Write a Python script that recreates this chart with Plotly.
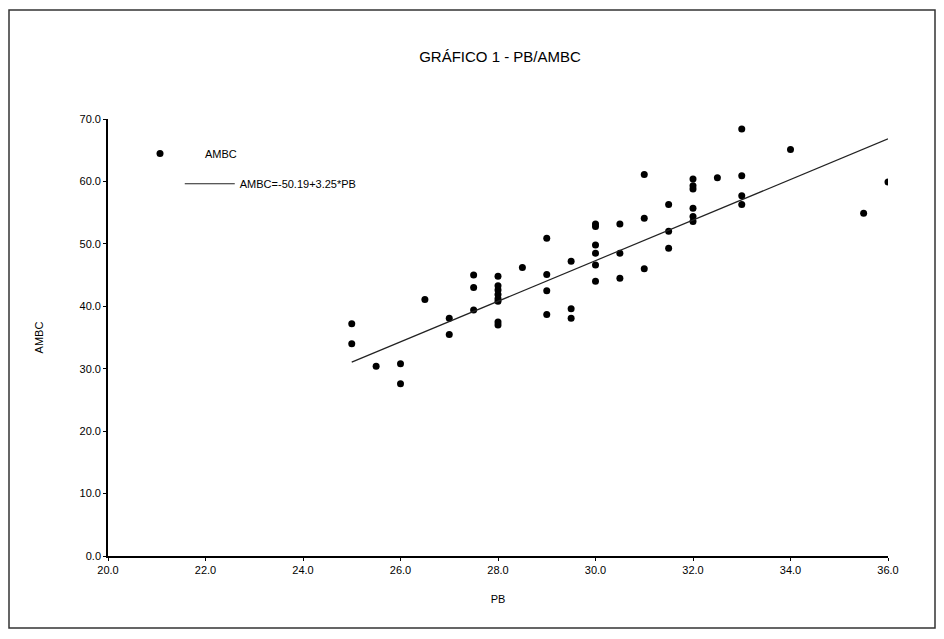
import plotly.graph_objects as go

# Data
pb = [25, 25, 25.5, 26, 26, 26.5, 27, 27,
      27.5, 27.5, 27.5,
      28, 28, 28, 28, 28, 28, 28, 28,
      28.5,
      29, 29, 29, 29,
      29.5, 29.5, 29.5,
      30, 30, 30, 30, 30, 30,
      30.5, 30.5, 30.5,
      31, 31, 31,
      31.5, 31.5, 31.5,
      32, 32, 32, 32, 32, 32,
      32.5,
      33, 33, 33, 33,
      34, 35.5, 36]
ambc = [37.2, 34.0, 30.4, 30.8, 27.6, 41.1, 38.1, 35.5,
        45.0, 43.0, 39.4,
        44.8, 43.3, 42.6, 41.9, 41.2, 40.8, 37.5, 37.0,
        46.2,
        50.9, 45.1, 42.5, 38.7,
        47.2, 39.6, 38.1,
        53.2, 52.8, 49.8, 48.5, 46.6, 44.0,
        53.2, 48.5, 44.5,
        61.1, 54.1, 46.0,
        56.3, 52.0, 49.3,
        60.4, 59.3, 58.8, 55.7, 54.4, 53.6,
        60.6,
        68.4, 60.9, 57.7, 56.3,
        65.1, 54.9, 59.9]

intercept = -50.19
slope = 3.25
fit_x = [25, 36]
fit_y = [intercept + slope * v for v in fit_x]

x_ticks = [20, 22, 24, 26, 28, 30, 32, 34, 36]
y_ticks = [0, 10, 20, 30, 40, 50, 60, 70]

FONT = "Liberation Sans, Arial, sans-serif"

W, H = 928, 623          # fits the 944x639 window inside the 8px body margin
L, T, PW, PH = 100, 111, 780, 437

fig = go.Figure()
fig.add_trace(go.Scatter(
    x=pb, y=ambc, mode="markers", name="AMBC",
    marker=dict(color="black", size=7),
    legend="legend",
))
fig.add_trace(go.Scatter(
    x=fit_x, y=fit_y, mode="lines", name="AMBC=-50.19+3.25*PB",
    line=dict(color="#222", width=1.2),
    legend="legend2",
))

fig.update_layout(
    width=W, height=H,
    paper_bgcolor="white", plot_bgcolor="white",
    margin=dict(l=L, r=W - L - PW, t=T, b=H - T - PH),
    font=dict(family=FONT, size=11, color="black"),
    title=dict(text="GRÁFICO 1 - PB/AMBC", x=492 / W, xanchor="center",
               y=1 - 49 / H, yanchor="middle",
               font=dict(family=FONT, size=15, color="black")),
    showlegend=True,
    legend=dict(x=0.009, y=0.954, xanchor="left", yanchor="top",
                bgcolor="rgba(0,0,0,0)", itemwidth=80,
                font=dict(family=FONT, size=11, color="black")),
    legend2=dict(x=0.092, y=0.885, xanchor="left", yanchor="top",
                 bgcolor="rgba(0,0,0,0)", itemwidth=50,
                 font=dict(family=FONT, size=11, color="black")),
    xaxis=dict(range=[20, 36], tickvals=x_ticks,
               ticktext=[f"{v:.1f}" for v in x_ticks],
               showgrid=False, zeroline=False, showline=True,
               linecolor="black", linewidth=1.6,
               ticks="outside", ticklen=3, tickcolor="black",
               title=dict(text="PB", standoff=20,
                          font=dict(family=FONT, size=11))),
    yaxis=dict(range=[0, 70], tickvals=y_ticks,
               ticktext=[f"{v:.1f}" for v in y_ticks],
               showgrid=False, zeroline=False, showline=True,
               linecolor="black", linewidth=1.6,
               ticks="outside", ticklen=3, tickcolor="black",
               title=dict(text="AMBC", standoff=34,
                          font=dict(family=FONT, size=11))),
)

# outer frame of the scanned figure
fig.add_shape(type="rect", xref="paper", yref="paper",
              x0=(1 - L) / PW, x1=(W - 1 - L) / PW,
              y0=(T + PH - (H - 3)) / PH, y1=(T + PH - 2) / PH,
              line=dict(color="#333", width=1.5))

fig.write_html("out.html")
